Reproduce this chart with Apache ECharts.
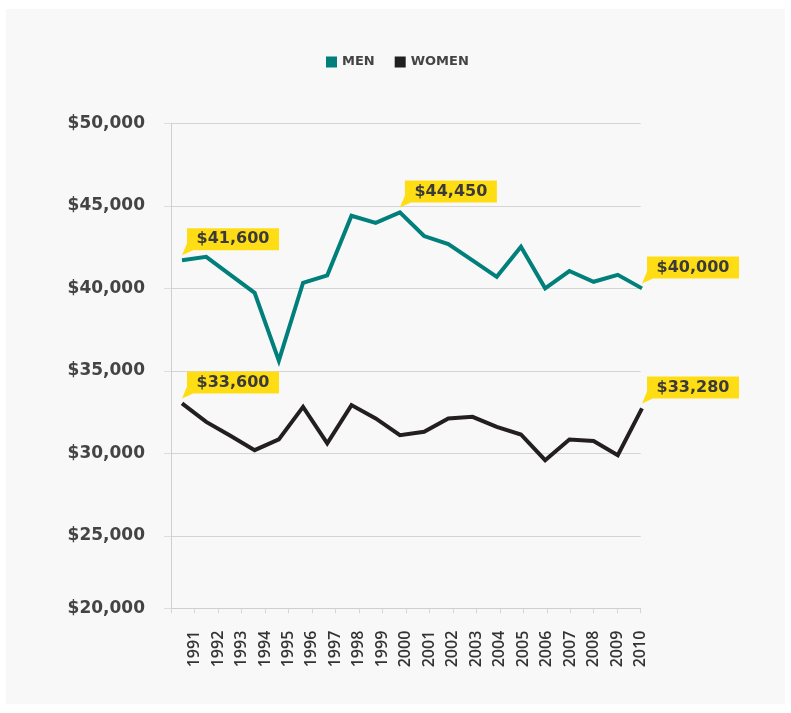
<!DOCTYPE html>
<html>
<head>
<meta charset="utf-8">
<script src="https://cdn.jsdelivr.net/npm/echarts@6/dist/echarts.min.js"></script>
<style>
  html, body { margin: 0; padding: 0; background: #ffffff; }
  #panel { position: absolute; left: 6px; top: 9px; width: 779px; height: 695px; background: #f8f8f8; }
  #chart { position: absolute; left: 0; top: 0; width: 791px; height: 713px; }
</style>
</head>
<body>
<div id="panel"></div>
<div id="chart"></div>
<script>
// ---- data ----
const years = ['1991','1992','1993','1994','1995','1996','1997','1998','1999','2000',
               '2001','2002','2003','2004','2005','2006','2007','2008','2009','2010'];
const men = [41710, 41910, 40820, 39730, 35620, 40340, 40790, 44400, 43970, 44600,
             43170, 42680, 41700, 40700, 42520, 40000, 41050, 40400, 40820, 40000];
const women = [33030, 31910, 31070, 30200, 30850, 32820, 30610, 32930, 32120, 31110,
               31310, 32120, 32220, 31610, 31150, 29590, 30850, 30760, 29900, 32730];
const menCalloutYears = ['1991', '2000', '2010'];
const menCalloutText = ['$41,600', '$44,450', '$40,000'];
const womenCalloutYears = ['1991', '2010'];
const womenCalloutText = ['$33,600', '$33,280'];
const yMin = 20620;   // bottom of the value axis (labelled $20,000 in the reference)
const yMax = 50000;

// ---- styling ----
const TEAL = '#007f7b';
const DARK = '#231f20';
const YELLOW = '#ffdd15';
const calloutPath = 'path://M5,0 L97,0 L97,22 L11,22 L0,27 L5,15 Z';

function callouts(yearsList, texts, values) {
  return yearsList.map((y, i) => ({
    name: texts[i],
    coord: [y, values[years.indexOf(y)]]
  }));
}

const markPointStyle = {
  symbol: calloutPath,
  symbolSize: [97, 27],
  symbolKeepAspect: false,
  symbolOffset: [48.5, -18.5],
  silent: true,
  animation: false,
  itemStyle: { color: YELLOW },
  label: {
    show: true,
    position: 'inside',
    offset: [2.5, -2.5],
    formatter: '{b}',
    color: '#3a3a3a',
    fontFamily: 'DejaVu Sans',
    fontWeight: 'bold',
    fontSize: 16
  }
};

const chart = echarts.init(document.getElementById('chart'), null, { renderer: 'canvas' });
chart.setOption({
  backgroundColor: 'transparent',
  animation: false,
  legend: {
    top: 50.5,
    left: 321,
    icon: 'rect',
    itemWidth: 11,
    itemHeight: 11,
    itemGap: 20,
    textStyle: { color: '#444', fontFamily: 'DejaVu Sans', fontWeight: 'bold', fontSize: 13 },
    data: ['MEN', 'WOMEN']
  },
  grid: [
    { left: 182, right: 149, top: 123.3, bottom: 104.7 },   // data area
    { left: 171, right: 150.3, top: 123.3, bottom: 104.7 }  // frame with axes
  ],
  xAxis: [
    { type: 'category', gridIndex: 0, data: years, boundaryGap: false, show: false },
    {
      type: 'category', gridIndex: 1, data: [''].concat(years), boundaryGap: false,
      axisLine: { show: true, lineStyle: { color: '#cfcfcf', width: 1 } },
      axisTick: { show: true, length: 5, alignWithLabel: true, interval: 0, lineStyle: { color: '#d6d6d6' } },
      axisLabel: {
        interval: 0, rotate: 90, align: 'left', margin: 59,
        color: '#333', fontFamily: 'Open Sans', fontWeight: 600, fontSize: 16
      },
      splitLine: { show: false }
    }
  ],
  yAxis: [
    { type: 'value', gridIndex: 0, min: yMin, max: yMax, splitNumber: 6, show: false },
    {
      type: 'value', gridIndex: 1, min: yMin, max: yMax, splitNumber: 6,
      axisLine: { show: true, lineStyle: { color: '#cfcfcf', width: 1 } },
      axisTick: { show: true, length: 7, lineStyle: { color: '#dddddd' } },
      splitLine: { show: true, lineStyle: { color: '#d4d4d4', width: 1 } },
      axisLabel: {
        margin: 26, color: '#444', fontFamily: 'DejaVu Sans', fontWeight: 'bold', fontSize: 17,
        padding: [5, 0, 0, 0],
        formatter: v => '$' + String(Math.round(v / 5000) * 5000).replace(/\B(?=(\d{3})+(?!\d))/g, ',')
      }
    }
  ],
  series: [
    {
      name: 'MEN', type: 'line', xAxisIndex: 0, yAxisIndex: 0, data: men,
      symbol: 'none', color: TEAL,
      lineStyle: { color: TEAL, width: 4, join: 'miter' },
      emphasis: { disabled: true },
      markPoint: Object.assign({ data: callouts(menCalloutYears, menCalloutText, men) }, markPointStyle),
      z: 3
    },
    {
      name: 'WOMEN', type: 'line', xAxisIndex: 0, yAxisIndex: 0, data: women,
      symbol: 'none', color: DARK,
      lineStyle: { color: DARK, width: 4, join: 'miter' },
      emphasis: { disabled: true },
      markPoint: Object.assign({ data: callouts(womenCalloutYears, womenCalloutText, women) }, markPointStyle),
      z: 3
    }
  ]
});
</script>
</body>
</html>
